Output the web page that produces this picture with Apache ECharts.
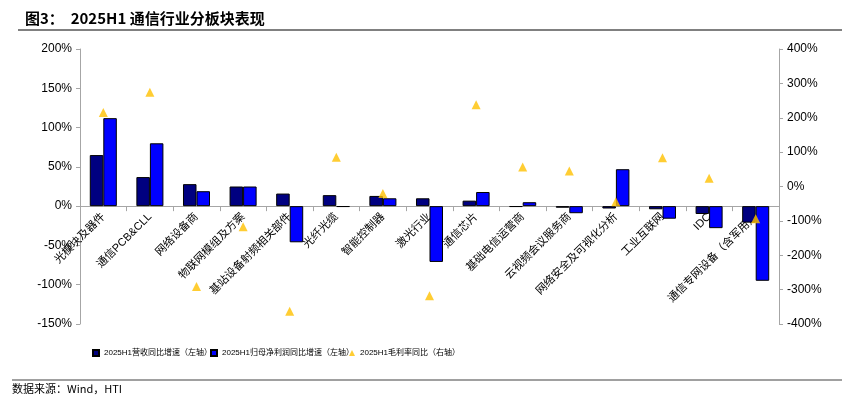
<!DOCTYPE html>
<html><head><meta charset="utf-8">
<script src="https://cdn.jsdelivr.net/npm/echarts@6/dist/echarts.min.js"></script>
<style>html,body{margin:0;padding:0;background:#fff}#c{width:842px;height:411px}</style>
</head><body><div id="c"></div>
<script>
const categories = ['光模块及器件','通信PCB&CLL','网络设备商','物联网模组及方案','基站设备射频相关部件','光纤光缆','智能控制器','激光行业','通信芯片','基础电信运营商','云视频会议服务商','网络安全及可视化分析','工业互联网','IDC','通信专网设备（含军用）'];
const revenueGrowth = [65, 37, 28, 25, 16, 14, 13, 10, 7, -1, -2, -3, -4, -10, -21];
const profitGrowth = [112, 80, 19, 25, -46, -1, 10, -71, 18, 5, -9, 47, -16, -28, -95];
const marginChange = [215, 274, -291, -117, -363, 85, -20, -318, 238, 57, 45, -44, 84, 24, -94];
const seriesNames = ['2025H1营收同比增速（左轴）','2025H1归母净利润同比增速（左轴）','2025H1毛利率同比（右轴）'];

const leftMin = -150, leftMax = 200;
const gridTop = 49, gridBottom = 87, H = 411;
const plotH = H - gridTop - gridBottom;
const zeroOffset = -plotH * (0 - leftMin) / (leftMax - leftMin);

const chart = echarts.init(document.getElementById('c'));
const cjk = '"Noto Sans CJK SC", sans-serif';
const latin = '"Liberation Sans", Arial, "Noto Sans CJK SC", sans-serif';
const legendText = {fontSize: 8, color: '#000', fontFamily: latin};
chart.setOption({
  animation: false,
  backgroundColor: '#fff',
  title: {
    text: '图3：  2025H1 通信行业分板块表现',
    left: 20, top: 6,
    textStyle: {fontSize: 15, fontWeight: 'bold', color: '#000', fontFamily: cjk}
  },
  graphic: [
    {type: 'line', shape: {x1: 18, y1: 30, x2: 842, y2: 30}, style: {stroke: '#808080', lineWidth: 2}},
    {type: 'line', shape: {x1: 12, y1: 380, x2: 842, y2: 380}, style: {stroke: '#808080', lineWidth: 1.5}},
    {type: 'text', left: 12, top: 383, style: {text: '数据来源：Wind，HTI', fontSize: 11, fill: '#000', fontFamily: cjk}}
  ],
  legend: [
    {left: 92, top: 349, padding: 0, itemWidth: 6, itemHeight: 6, itemGap: 2, textStyle: legendText,
     data: [{name: seriesNames[0], icon: 'rect'}]},
    {left: 210, top: 349, padding: 0, itemWidth: 6, itemHeight: 6, itemGap: 2, textStyle: legendText,
     data: [{name: seriesNames[1], icon: 'rect'}]},
    {left: 349, top: 349, padding: 0, itemWidth: 6, itemHeight: 6, itemGap: 2, textStyle: legendText,
     data: [{name: seriesNames[2], icon: 'triangle'}]}
  ],
  grid: {left: 80, right: 63, top: gridTop, bottom: gridBottom, containLabel: false, outerBoundsMode: 'none'},
  xAxis: {
    type: 'category', data: categories, position: 'bottom', offset: zeroOffset,
    axisLine: {onZero: false, lineStyle: {color: '#a6a6a6'}},
    axisTick: {show: true, alignWithLabel: false, length: 5, lineStyle: {color: '#a6a6a6'}},
    axisLabel: {rotate: 45, interval: 0, fontSize: 11, color: '#000', margin: 9, fontFamily: latin},
    splitLine: {show: false}
  },
  yAxis: [
    {
      type: 'value', min: leftMin, max: leftMax, interval: 50,
      axisLine: {show: true, lineStyle: {color: '#a6a6a6'}},
      axisTick: {show: true, length: 4, lineStyle: {color: '#a6a6a6'}},
      axisLabel: {formatter: '{value}%', fontSize: 12, color: '#000', fontFamily: latin, margin: 8},
      splitLine: {show: false}
    },
    {
      type: 'value', min: -400, max: 400, interval: 100,
      axisLine: {show: true, lineStyle: {color: '#a6a6a6'}},
      axisTick: {show: true, length: 4, lineStyle: {color: '#a6a6a6'}},
      axisLabel: {formatter: '{value}%', fontSize: 12, color: '#000', fontFamily: latin, margin: 8},
      splitLine: {show: false}
    }
  ],
  series: [
    {name: seriesNames[0], type: 'bar', yAxisIndex: 0, data: revenueGrowth, barGap: '0%', barCategoryGap: '42%',
     itemStyle: {color: '#000080', borderColor: '#000', borderWidth: 1}},
    {name: seriesNames[1], type: 'bar', yAxisIndex: 0, data: profitGrowth, barGap: '0%', barCategoryGap: '42%',
     itemStyle: {color: '#0000ff', borderColor: '#000', borderWidth: 1}},
    {name: seriesNames[2], type: 'scatter', yAxisIndex: 1, data: marginChange, symbol: 'triangle', symbolSize: 9,
     itemStyle: {color: '#ffc000'}, z: 5}
  ]
});
</script></body></html>
